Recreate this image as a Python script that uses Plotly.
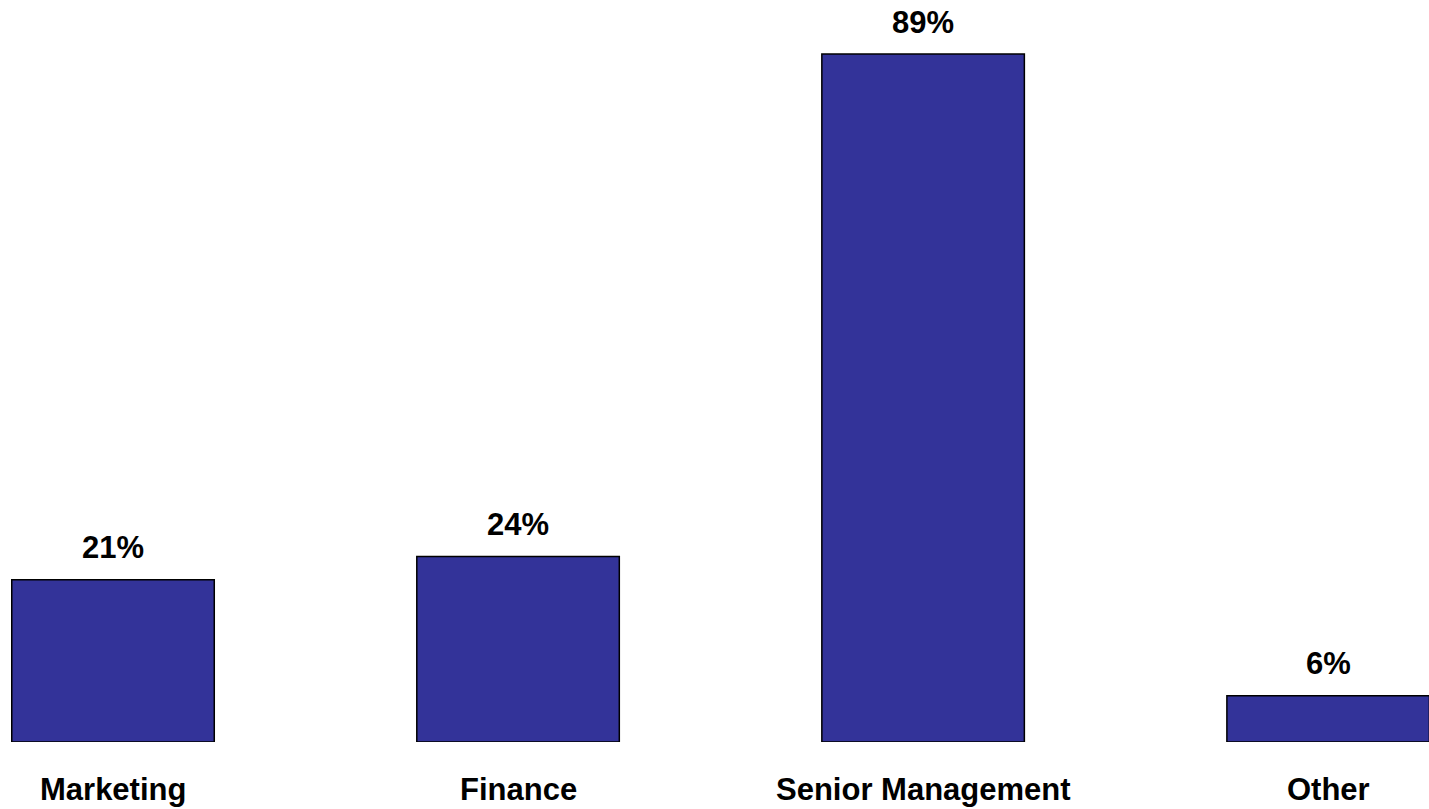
import plotly.graph_objects as go

# Share of respondents by function
categories = ["Marketing", "Finance", "Senior Management", "Other"]
values = [21, 24, 89, 6]

BAR_COLOR = "#333399"
FONT = "Liberation Sans, Arial, sans-serif"

fig = go.Figure(
    go.Bar(
        x=categories,
        y=values,
        width=0.5,
        marker=dict(color=BAR_COLOR, line=dict(color="black", width=1.5)),
        hoverinfo="skip",
    )
)

# Value labels above each bar
for cat, val in zip(categories, values):
    fig.add_annotation(
        x=cat, y=val, text=f"<b>{val}%</b>", showarrow=False,
        yanchor="middle", yshift=32,
        font=dict(family=FONT, size=31, color="black"),
    )

# Category names beneath the baseline
for cat in categories:
    fig.add_annotation(
        x=cat, y=0, text=f"<b>{cat}</b>", showarrow=False,
        yanchor="middle", yshift=-47,
        font=dict(family=FONT, size=31, color="black"),
    )

fig.update_layout(
    width=1429,
    height=809,
    margin=dict(l=0, r=0, t=0, b=67),
    paper_bgcolor="white",
    plot_bgcolor="white",
    showlegend=False,
    xaxis=dict(
        range=[-0.279, 3.249], showticklabels=False, showgrid=False,
        zeroline=False, showline=False, fixedrange=True,
    ),
    yaxis=dict(
        range=[0, 96], visible=False, showgrid=False, zeroline=False,
        fixedrange=True,
    ),
)

fig.write_html("out.html", config={"displayModeBar": False})
